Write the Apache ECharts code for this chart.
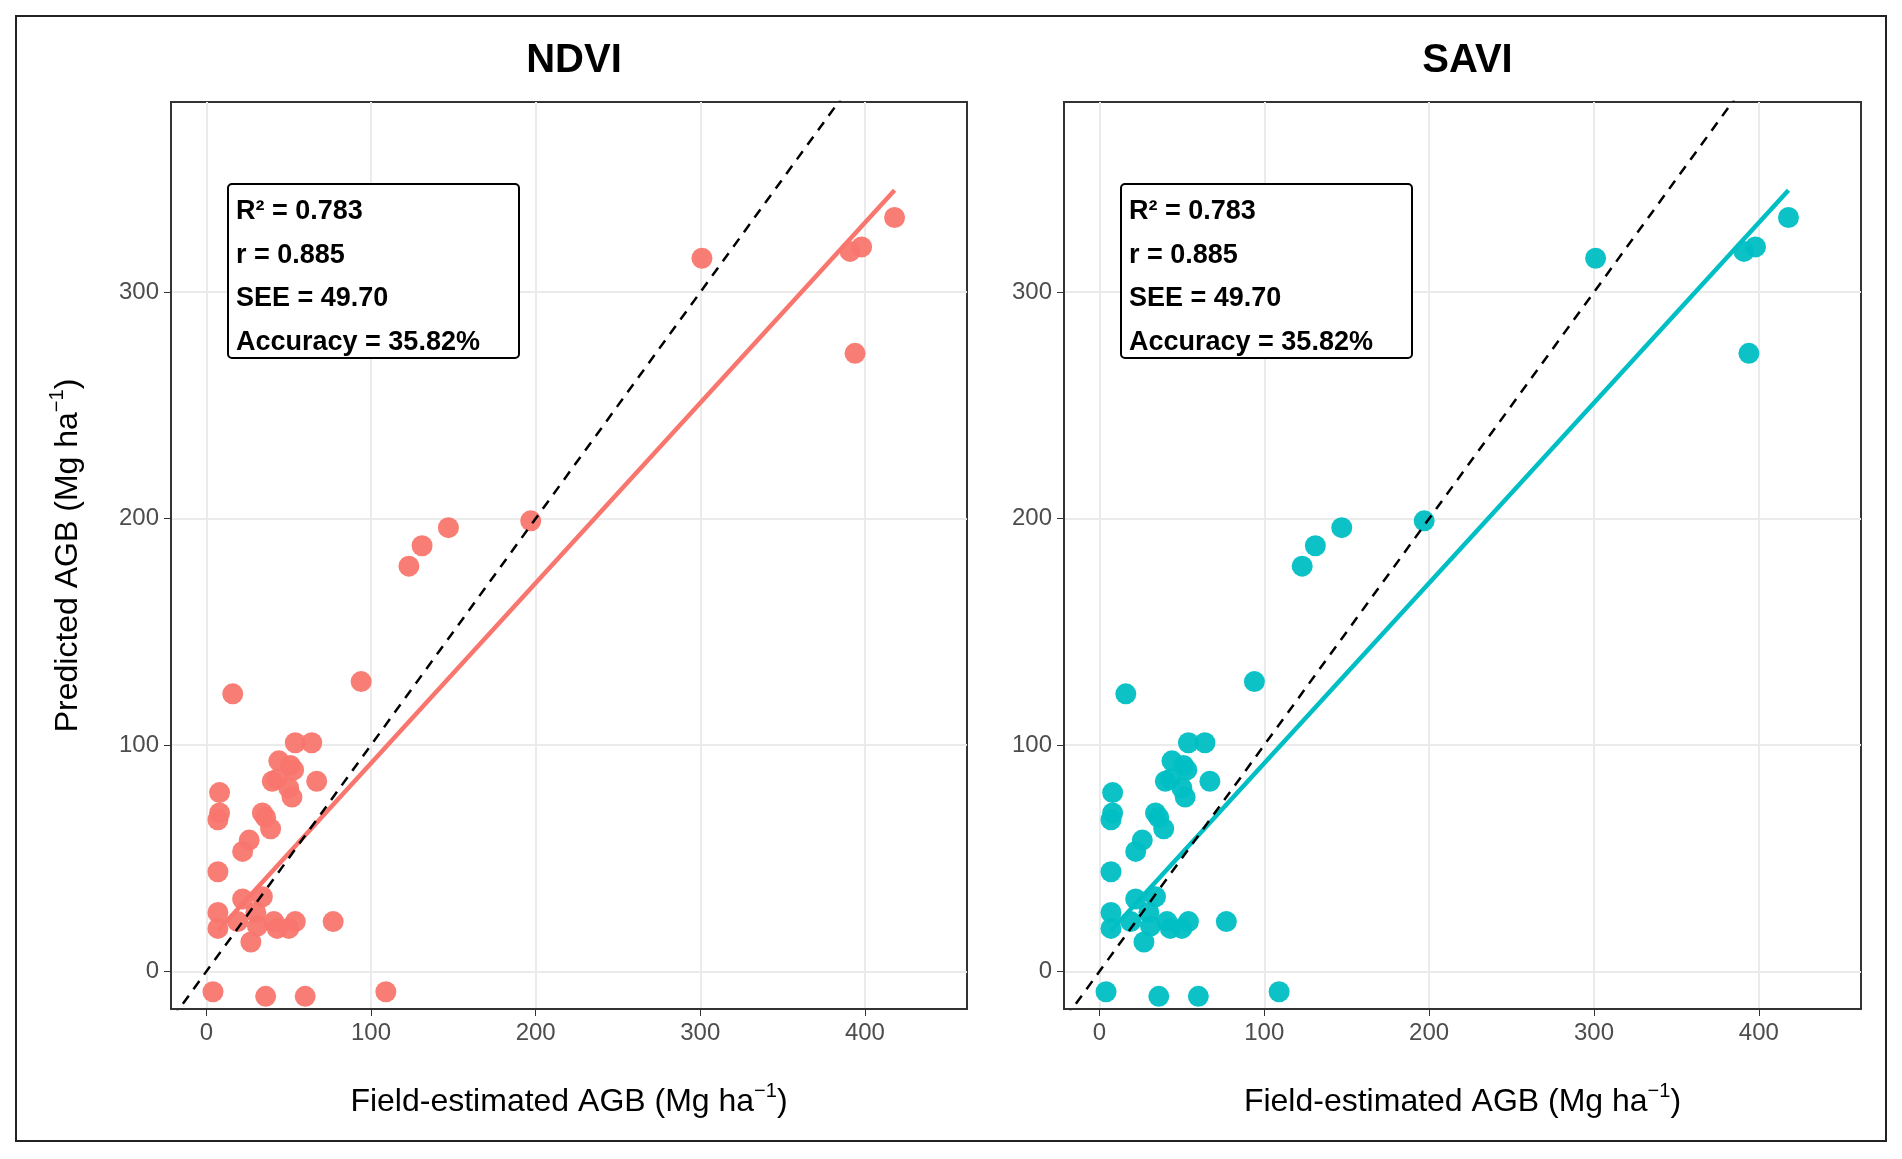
<!DOCTYPE html>
<html>
<head>
<meta charset="utf-8">
<script src="https://cdn.jsdelivr.net/npm/echarts@6/dist/echarts.min.js"></script>
<style>
html,body{margin:0;padding:0;background:#fff;}
#main{width:1902px;height:1159px;}
</style>
</head>
<body>
<div id="main"></div>
<script>
// field-estimated AGB and predicted AGB (same points in both panels)
var fieldAGB = [16, 94, 147, 131, 123, 197, 301, 391, 398, 418, 394,
    54, 64, 44, 51, 53, 40, 43, 50, 52, 67, 8, 8, 7, 34, 36, 39, 26, 22, 7,
    7, 7, 34, 22, 30, 19, 31, 41, 43, 50, 54, 27, 77, 4, 36, 60, 109, 4];
var predAGB = [122.6, 128, 196, 188, 179, 199, 315, 318, 320, 333, 273,
    101, 101, 93, 91, 89, 84, 85, 81, 77, 84, 79, 70, 67, 70, 68, 63, 58, 53, 44,
    26, 19, 33, 32, 26, 22, 20, 22, 19, 19, 22, 13, 22, -9, -11, -11, -9, -17];
var fitLine = [[7, 18], [418, 345]];
var oneToOne = [[-40, -40], [420, 420]];
var tickValues = [0, 100, 200, 300, 400];
var yTickValues = [0, 100, 200, 300];
var panels = ['NDVI', 'SAVI'];
var colors = ['#f8766d', '#00bfc4'];
var statsText = ['R² = 0.783', 'r = 0.885', 'SEE = 49.70', 'Accuracy = 35.82%'];

var chart = echarts.init(document.getElementById('main'));
var grids = [
    {left: 171, top: 102, width: 796, height: 907},
    {left: 1064, top: 102, width: 797, height: 907}
];
var points = fieldAGB.map(function (x, i) { return [x, predAGB[i]]; });
var nameRich = {
    n: {fontSize: 32, color: '#000', fontFamily: 'Liberation Sans'},
    s: {fontSize: 20, color: '#000', verticalAlign: 'top', padding: [0, 0, 22, 0]}
};

var xAxes = [], yAxes = [], series = [], titles = [], graphics = [];
panels.forEach(function (name, i) {
    xAxes.push({
        gridIndex: i, type: 'value', min: -21.5, max: 462,
        name: '{n|Field-estimated AGB (Mg ha}{s|−1}{n|)}',
        nameLocation: 'middle', nameGap: 72,
        nameTextStyle: {rich: nameRich},
        axisLine: {onZero: false, lineStyle: {color: '#333', width: 2}},
        axisTick: {customValues: tickValues, length: 7, lineStyle: {color: '#333'}},
        axisLabel: {customValues: tickValues, fontSize: 24, color: '#4d4d4d', margin: 12},
        splitLine: {show: true, lineStyle: {color: '#ebebeb', width: 2}}
    });
    yAxes.push({
        gridIndex: i, type: 'value', min: -16.6, max: 384,
        name: i === 0 ? '{n|Predicted AGB (Mg ha}{s|−1}{n|)}' : '',
        nameLocation: 'middle', nameGap: 82,
        nameTextStyle: {rich: nameRich},
        axisLine: {onZero: false, lineStyle: {color: '#333', width: 2}},
        axisTick: {customValues: yTickValues, length: 7, lineStyle: {color: '#333'}},
        axisLabel: {customValues: yTickValues, fontSize: 24, color: '#4d4d4d', margin: 12},
        splitLine: {show: true, lineStyle: {color: '#ebebeb', width: 2}}
    });
    series.push({
        type: 'scatter', xAxisIndex: i, yAxisIndex: i, data: points,
        symbolSize: 21, itemStyle: {color: colors[i], opacity: 0.95}
    });
    series.push({
        type: 'line', xAxisIndex: i, yAxisIndex: i, data: fitLine,
        symbol: 'none', lineStyle: {color: colors[i], width: 4.5}
    });
    series.push({
        type: 'line', xAxisIndex: i, yAxisIndex: i, data: oneToOne,
        symbol: 'none', lineStyle: {color: '#000', width: 2.5, type: [10, 8]}
    });
    titles.push({
        text: name, left: grids[i].left + grids[i].width / 2, textAlign: 'center', top: 36,
        textStyle: {fontSize: 40, fontWeight: 'bold', color: '#000', fontFamily: 'Liberation Sans'}
    });
    var bx = grids[i].left + 57;
    graphics.push({
        type: 'rect', shape: {x: bx, y: 184, width: 291, height: 174, r: 4},
        style: {fill: '#fff', stroke: '#000', lineWidth: 2}, z: 10
    });
    graphics.push({
        type: 'text', x: bx + 8, y: 190, z: 11,
        style: {text: statsText.join('\n'), fontSize: 27, fontWeight: 'bold',
            lineHeight: 43.5, fill: '#000', fontFamily: 'Liberation Sans'}
    });
});

graphics.push({
    type: 'rect', shape: {x: 16, y: 16, width: 1870, height: 1125},
    style: {fill: 'none', stroke: '#222', lineWidth: 2}, z: 20
});

var option = {
    backgroundColor: '#fff',
    title: titles,
    grid: grids.map(function (g) {
        return Object.assign({show: true, borderColor: '#333', borderWidth: 2}, g);
    }),
    xAxis: xAxes,
    yAxis: yAxes,
    series: series,
    graphic: graphics,
    animation: false
};
chart.setOption(option);
</script>
</body>
</html>
